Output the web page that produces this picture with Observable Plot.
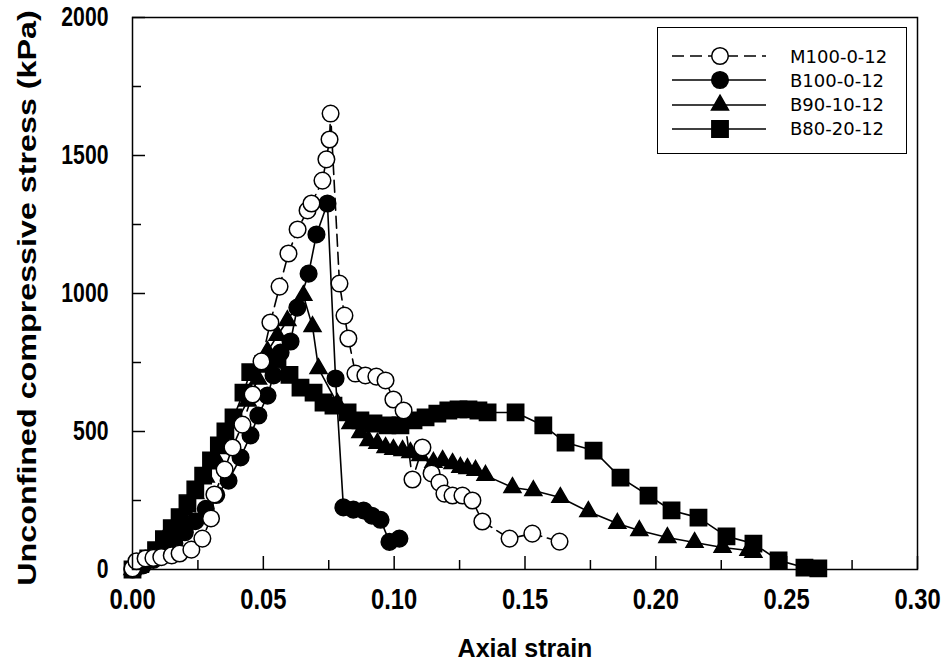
<!DOCTYPE html>
<html><head><meta charset="utf-8">
<script src="https://cdn.jsdelivr.net/npm/d3@7"></script>
<script src="https://cdn.jsdelivr.net/npm/@observablehq/plot@0.6"></script>
<style>
body{margin:0;background:#fff;}
#wrap{position:relative;width:945px;height:662px;overflow:hidden;}
.ttl{position:absolute;font-family:"Liberation Sans",Arial,sans-serif;font-weight:bold;color:#000;white-space:nowrap;line-height:1;}
#xtitle{left:0;width:945px;top:636px;text-align:center;font-size:25px;padding-left:105px;box-sizing:border-box;}
#ytitle{left:27px;top:298px;font-size:25px;transform:translate(-50%,-50%) rotate(-90deg) scaleX(1.29);}
#legend{position:absolute;left:657px;top:27px;width:250px;height:127px;border:1.5px solid #000;background:#fff;box-sizing:border-box;}
.row{position:absolute;left:0;height:24px;display:flex;align-items:center;}
.row span{font-family:"DejaVu Sans",sans-serif;font-size:18px;margin-left:22px;}
</style></head>
<body><div id="wrap"></div>
<script>
const seriesNames = ["M100-0-12","B100-0-12","B90-10-12","B80-20-12"];

const m100Strain = [0.000,0.0015,0.005,0.008,0.011,0.015,0.018,0.0225,0.0267,0.030,0.0313,0.0352,0.0382,0.042,0.0459,0.0493,0.0527,0.0562,0.0596,0.0631,0.0669,0.0684,0.0726,0.0741,0.0753,0.0757,0.0791,0.081,0.0825,0.0852,0.089,0.0932,0.0967,0.0997,0.1036,0.107,0.1108,0.1143,0.1173,0.1192,0.1223,0.1261,0.1299,0.1337,0.1441,0.1528,0.1632];
const m100Stress = [4,30,40,42,45,51,58,72,112,185,272,362,442,525,634,754,895,1025,1145,1232,1301,1326,1409,1486,1558,1652,1036,920,837,710,703,699,685,616,576,326,442,348,315,275,268,268,250,174,112,130,101];

const b100Strain = [0,0.004,0.008,0.012,0.016,0.02,0.024,0.028,0.032,0.0367,0.0413,0.0451,0.0481,0.0516,0.0539,0.0566,0.0604,0.063,0.0673,0.0703,0.0745,0.0776,0.0806,0.0844,0.0883,0.0915,0.0948,0.0982,0.102];
const b100Stress = [0,15,35,60,95,135,175,220,270,322,406,486,558,630,703,786,826,949,1072,1214,1326,692,225,217,214,195,180,100,112];

const b90Strain = [0,0.004,0.008,0.012,0.016,0.02,0.024,0.028,0.032,0.036,0.040,0.044,0.048,0.0516,0.0554,0.0592,0.0653,0.0688,0.0711,0.0783,0.0833,0.0871,0.0902,0.0936,0.0967,0.0997,0.1032,0.1062,0.11,0.115,0.1185,0.1223,0.1253,0.128,0.1311,0.1349,0.1452,0.1532,0.1635,0.1742,0.1853,0.1937,0.2044,0.2148,0.2255,0.2354,0.2373];
const b90Stress = [0,25,60,110,160,215,275,335,400,470,540,610,690,790,848,902,993,880,728,601,529,496,467,457,442,435,431,424,413,388,395,384,370,366,359,341,297,286,261,210,167,141,116,98,80,69,62];

const b80Strain = [0,0.003,0.006,0.009,0.012,0.015,0.018,0.021,0.024,0.027,0.030,0.033,0.0355,0.0386,0.0424,0.045,0.050,0.0554,0.060,0.0642,0.0692,0.073,0.0768,0.0822,0.0871,0.0921,0.0974,0.1024,0.1074,0.112,0.1165,0.1207,0.1246,0.1284,0.1322,0.1357,0.1464,0.157,0.1655,0.1762,0.1865,0.1972,0.206,0.2163,0.227,0.2373,0.2469,0.2568,0.2621];
const b80Stress = [0,20,40,70,110,150,190,240,290,340,395,450,500,551,641,715,745,760,705,659,641,605,594,569,540,529,522,522,540,551,565,576,580,580,576,569,569,522,460,431,333,268,214,188,120,94,33,7,4];

const xMajorTicks = [0,0.05,0.10,0.15,0.20,0.25,0.30];
const xMinorTicks = [0.025,0.075,0.125,0.175,0.225,0.275];
const yMajorTicks = [0,500,1000,1500,2000];
const yMinorTicks = [250,750,1250,1750];

const xTitle = "Axial strain";
const yTitle = "Unconfined compressive stress (kPa)";

const toRows = (xs, ys) => xs.map((x, i) => ({x, y: ys[i]}));
const seriesData = {
  "M100-0-12": toRows(m100Strain, m100Stress),
  "B100-0-12": toRows(b100Strain, b100Stress),
  "B90-10-12": toRows(b90Strain, b90Stress),
  "B80-20-12": toRows(b80Strain, b80Stress)
};
const styles = {
  "M100-0-12": {symbol: "circle", fill: "white", r: 8.3, dash: "12,6"},
  "B100-0-12": {symbol: "circle", fill: "black", r: 8.3, dash: null},
  "B90-10-12": {symbol: "triangle", fill: "black", r: 6.3, dash: null},
  "B80-20-12": {symbol: "square", fill: "black", r: 9.2, dash: null}
};

const W = 945, H = 662, mL = 132, mR = 28, mT = 17, mB = 93;
const plotW = W - mL - mR, plotH = H - mT - mB;
const tickFont = '"Liberation Sans",Arial,sans-serif';

const drawOrder = ["B80-20-12","B90-10-12","B100-0-12","M100-0-12"];
const seriesMarks = drawOrder.flatMap(name => {
  const s = styles[name];
  return [
    Plot.line(seriesData[name], {x: "x", y: "y", stroke: "black", strokeWidth: 1.6, strokeDasharray: s.dash}),
    Plot.dot(seriesData[name], {x: "x", y: "y", symbol: s.symbol, r: s.r, fill: s.fill, stroke: "black", strokeWidth: 1.5})
  ];
});

const chart = Plot.plot({
  width: W, height: H,
  marginLeft: mL, marginRight: mR, marginTop: mT, marginBottom: mB,
  style: {background: "white", overflow: "visible"},
  x: {domain: [0, 0.3]},
  y: {domain: [0, 2000]},
  marks: [
    Plot.tickX(xMajorTicks, {x: d => d, insetTop: plotH - 13, stroke: "black", strokeWidth: 1.5}),
    Plot.tickX(xMinorTicks, {x: d => d, insetTop: plotH - 9, stroke: "black", strokeWidth: 1.5}),
    Plot.tickY(yMajorTicks, {y: d => d, insetRight: plotW - 13, stroke: "black", strokeWidth: 1.5}),
    Plot.tickY(yMinorTicks, {y: d => d, insetRight: plotW - 9, stroke: "black", strokeWidth: 1.5}),
    Plot.axisX(xMajorTicks, {tickSize: 0, tickPadding: 18, tickFormat: d3.format(".2f"), label: null,
      fontSize: 26, fontWeight: "bold", fontFamily: tickFont, fill: "black"}),
    Plot.axisY(yMajorTicks, {tickSize: 0, tickPadding: 24, tickFormat: d => String(d), label: null,
      fontSize: 27, fontWeight: "bold", fontFamily: tickFont, fill: "black"}),
    ...seriesMarks,
    Plot.frame({stroke: "black", strokeWidth: 1.5})
  ]
});

// condense tick labels (reference uses a narrow, tall bold face)
const condense = (sel, digitW, dotW, sy) => {
  d3.select(chart).selectAll(sel).each(function() {
    const s = this.textContent;
    let len = 0;
    for (const c of s) len += (c === "." ? dotW : digitW);
    this.setAttribute("textLength", len);
    this.setAttribute("lengthAdjust", "spacingAndGlyphs");
    if (sy) this.setAttribute("transform", (this.getAttribute("transform") || "") + ` scale(1,${sy})`);
  });
};
condense('g[aria-label="x-axis tick label"] text', 13.2, 6.6, 1.16);
condense('g[aria-label="y-axis tick label"] text', 11.8, 5.9, 0);

const wrap = document.getElementById("wrap");
wrap.appendChild(chart);

const xt = document.createElement("div"); xt.className = "ttl"; xt.id = "xtitle"; xt.textContent = xTitle; wrap.appendChild(xt);
const yt = document.createElement("div"); yt.className = "ttl"; yt.id = "ytitle"; yt.textContent = yTitle; wrap.appendChild(yt);

// Legend
const legend = document.createElement("div"); legend.id = "legend"; wrap.appendChild(legend);
seriesNames.forEach((name, i) => {
  const s = styles[name];
  const row = document.createElement("div"); row.className = "row";
  row.style.top = (16 + i * 24.3) + "px";
  const svg = d3.create("svg").attr("width", 110).attr("height", 24);
  svg.append("line").attr("x1", 14).attr("x2", 108).attr("y1", 12).attr("y2", 12)
    .attr("stroke", "black").attr("stroke-width", 1.6).attr("stroke-dasharray", s.dash);
  const sym = {circle: d3.symbolCircle, triangle: d3.symbolTriangle, square: d3.symbolSquare}[s.symbol];
  svg.append("path").attr("transform", "translate(62,12)")
    .attr("d", d3.symbol(sym, Math.PI * s.r * s.r)())
    .attr("fill", s.fill).attr("stroke", "black").attr("stroke-width", 1.5);
  row.appendChild(svg.node());
  const t = document.createElement("span"); t.textContent = name; row.appendChild(t);
  legend.appendChild(row);
});
</script></body></html>
